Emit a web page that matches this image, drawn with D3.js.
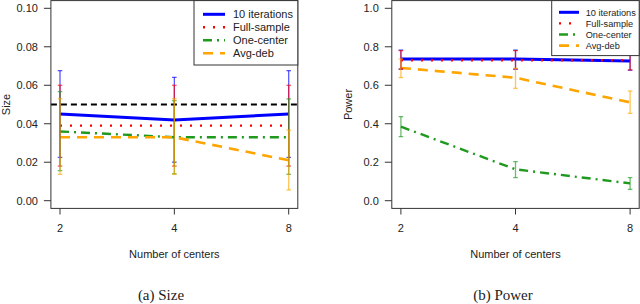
<!DOCTYPE html>
<html>
<head>
<meta charset="utf-8">
<script src="https://cdn.jsdelivr.net/npm/d3@7"></script>
<style>
  body { margin: 0; background: #fff; }
  svg { display: block; }
  text { font-family: "Liberation Sans", Arial, sans-serif; fill: #222; }
</style>
</head>
<body>
<script>
// values
let centers = ["2", "4", "8"]
let seriesNames = ["10 iterations", "Full-sample", "One-center", "Avg-deb"]

let sizeMean = [[0.045, 0.042, 0.045], [0.039, 0.039, 0.039], [0.036, 0.033, 0.033], [0.033, 0.033, 0.021]]
let sizeLo   = [[0.0225, 0.020, 0.0225], [0.018, 0.018, 0.018], [0.0156, 0.0140, 0.0137], [0.0137, 0.0137, 0.0056]]
let sizeHi   = [[0.0676, 0.0641, 0.0676], [0.060, 0.060, 0.060], [0.0567, 0.052, 0.0529], [0.053, 0.053, 0.0367]]
let sizeTicks = [0, 0.02, 0.04, 0.06, 0.08, 0.10]
let nominal = 0.05

let powMean = [[0.737, 0.737, 0.726], [0.73, 0.73, 0.73], [0.385, 0.163, 0.09], [0.69, 0.639, 0.511]]
let powLo   = [[0.683, 0.683, 0.678], [0.685, 0.685, 0.68], [0.333, 0.12, 0.059], [0.64, 0.584, 0.454]]
let powHi   = [[0.783, 0.783, 0.774], [0.78, 0.78, 0.775], [0.437, 0.203, 0.12], [0.737, 0.688, 0.570]]
let powTicks = [0, 0.2, 0.4, 0.6, 0.8, 1.0]

let colors = ["#0000ff", "#ff0000", "#1f9a1f", "#ffa500"]
let dashes = [null, "2,8", "9,5,2,5", "10,7"]
let widths = [3, 2.4, 2.4, 2.6]

let svg = d3.select("body").append("svg").attr("width", 640).attr("height", 304)

function panel(opt) {
  let x = d3.scalePoint().domain(centers).range([opt.x0 + 9.1, opt.x1 - 9.1])
  let y = d3.scaleLinear().domain([0, opt.ymax]).range([200.7, 8.3])
  let g = svg.append("g")

  // y ticks
  g.selectAll(".yt").data(opt.ticks).join("line")
    .attr("x1", opt.x0 - 7).attr("x2", opt.x0)
    .attr("y1", d => y(d)).attr("y2", d => y(d))
    .attr("stroke", "#333")
  g.selectAll(".yl").data(opt.ticks).join("text")
    .attr("x", opt.x0 - 13).attr("y", d => y(d)).attr("dy", "0.35em")
    .attr("text-anchor", "end").attr("font-size", 11)
    .text(d => d3.format(opt.fmt)(d))
  // x ticks
  g.selectAll(".xt").data(centers).join("line")
    .attr("x1", d => x(d)).attr("x2", d => x(d))
    .attr("y1", 208.4).attr("y2", 214.5).attr("stroke", "#333")
  g.selectAll(".xl").data(centers).join("text")
    .attr("x", d => x(d)).attr("y", 228.5).attr("dy", "0.35em")
    .attr("text-anchor", "middle").attr("font-size", 11).text(d => d)

  g.append("text").attr("x", (opt.x0 + opt.x1) / 2).attr("y", 254).attr("dy", "0.35em")
    .attr("text-anchor", "middle").attr("font-size", 11).text("Number of centers")
  g.append("text").attr("transform", "translate(" + opt.ytx + ",104.5) rotate(-90)")
    .attr("dy", "0.35em").attr("text-anchor", "middle").attr("font-size", 11).text(opt.ylab)
  g.append("text").attr("x", opt.capx).attr("y", 295).attr("dy", "0.35em")
    .attr("text-anchor", "middle").attr("font-size", 15)
    .style("font-family", "'Liberation Serif', 'DejaVu Serif', serif").text(opt.caption)

  if (opt.ref != null) {
    g.append("line").attr("x1", opt.x0).attr("x2", opt.x1)
      .attr("y1", y(opt.ref)).attr("y2", y(opt.ref))
      .attr("stroke", "#000").attr("stroke-width", 1.8).attr("stroke-dasharray", "6,4")
  }

  let line = d3.line().x((d, i) => x(centers[i])).y(d => y(d))
  opt.mean.forEach((s, k) => {
    g.append("path").attr("d", line(s)).attr("fill", "none")
      .attr("stroke", colors[k]).attr("stroke-width", widths[k])
      .attr("stroke-dasharray", dashes[k])
  })

  // error bars
  opt.mean.forEach((s, k) => {
    let eb = g.append("g").attr("stroke", colors[k]).attr("stroke-opacity", 0.65).attr("stroke-width", 1.3)
    centers.forEach((c, i) => {
      let cx = x(c)
      eb.append("line").attr("x1", cx).attr("x2", cx).attr("y1", y(opt.lo[k][i])).attr("y2", y(opt.hi[k][i]))
      eb.append("line").attr("x1", cx - 2.3).attr("x2", cx + 2.3).attr("y1", y(opt.lo[k][i])).attr("y2", y(opt.lo[k][i]))
      eb.append("line").attr("x1", cx - 2.3).attr("x2", cx + 2.3).attr("y1", y(opt.hi[k][i])).attr("y2", y(opt.hi[k][i]))
    })
  })

  // box
  g.append("rect").attr("x", opt.x0).attr("y", 0.6).attr("width", opt.x1 - opt.x0).attr("height", 207.8)
    .attr("fill", "none").attr("stroke", "#333")

  // legend
  let L = opt.leg
  let lg = g.append("g")
  lg.append("rect").attr("x", L.x0).attr("y", 0.6).attr("width", L.x1 - L.x0).attr("height", L.h)
    .attr("fill", "#fff").attr("stroke", "#333")
  seriesNames.forEach((nm, k) => {
    let ly = L.y0 + k * L.dy
    lg.append("line").attr("x1", L.lx).attr("x2", L.lx + L.lw).attr("y1", ly).attr("y2", ly)
      .attr("stroke", colors[k]).attr("stroke-width", widths[k]).attr("stroke-dasharray", dashes[k])
    lg.append("text").attr("x", L.tx).attr("y", ly).attr("dy", "0.35em")
      .attr("font-size", L.fs).text(nm)
  })
}

panel({ x0: 50.9, x1: 297.8, ymax: 0.10, ticks: sizeTicks, fmt: ".2f", mean: sizeMean, lo: sizeLo, hi: sizeHi,
  ref: nominal, ylab: "Size", ytx: 6, caption: "(a) Size", capx: 161,
  leg: { x0: 194, x1: 297.8, h: 64.4, y0: 14.3, dy: 13, lx: 203, lw: 22, tx: 233, fs: 11 } })

panel({ x0: 391.8, x1: 639.2, ymax: 1.0, ticks: powTicks, fmt: ".1f", mean: powMean, lo: powLo, hi: powHi,
  ref: null, ylab: "Power", ytx: 348, caption: "(b) Power", capx: 503,
  leg: { x0: 551.7, x1: 639.2, h: 55, y0: 12.3, dy: 11.1, lx: 559, lw: 20, tx: 585.7, fs: 9.2 } })
</script>
</body>
</html>
